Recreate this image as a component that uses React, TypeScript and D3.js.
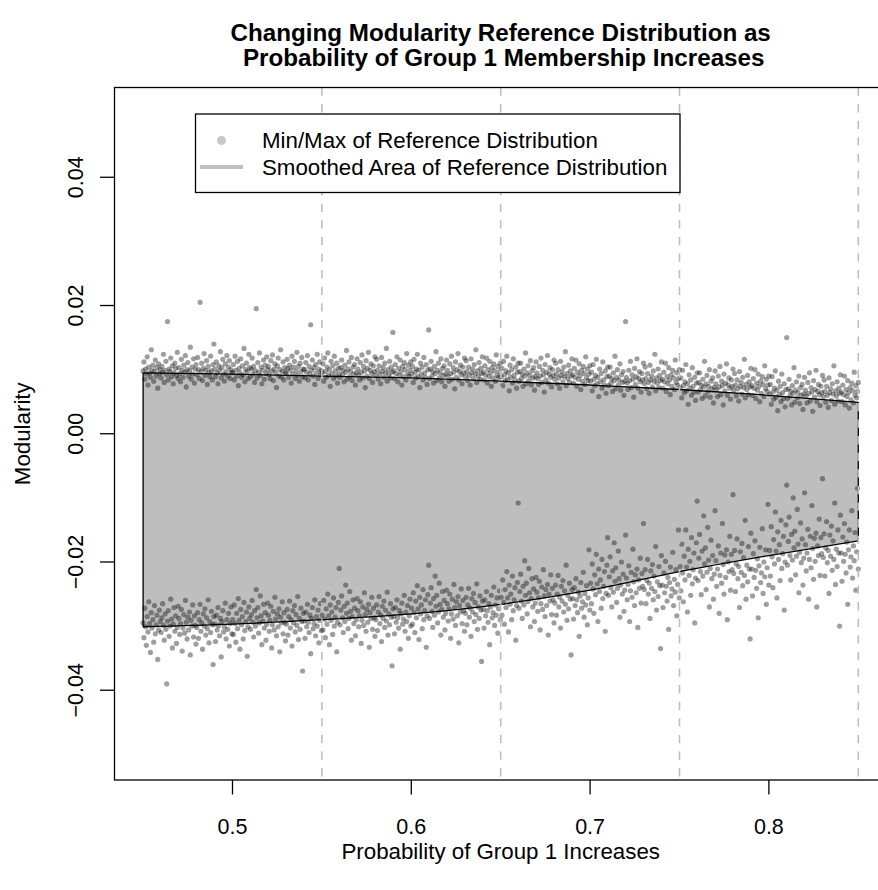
import React from "react";
import * as d3 from "d3";

// ---- data (modularity values stored in units of 1e-4) ----
const probStart = 0.45;
const probEnd = 0.85;
const smoothProbs = [0.45, 0.5, 0.55, 0.6, 0.65, 0.7, 0.75, 0.8, 0.85];
const smoothUpper = [0.0095, 0.0093, 0.009, 0.0087, 0.0082, 0.0076, 0.0069, 0.006, 0.0049];
const smoothLower = [-0.0301, -0.0297, -0.029, -0.0281, -0.0266, -0.0244, -0.0215, -0.019, -0.0167];
const xTicks = [0.5, 0.6, 0.7, 0.8];
const xTickLabels = ["0.5", "0.6", "0.7", "0.8"];
const yTicks = [-0.04, -0.02, 0, 0.02, 0.04];
const yTickLabels = ["\u22120.04", "\u22120.02", "0.00", "0.02", "0.04"];
const refLines = [0.55, 0.65, 0.75, 0.85];
const legendLabels = ["Min/Max of Reference Distribution", "Smoothed Area of Reference Distribution"];

const maxValues = [
  98, 112, 85, 101, 93, 120, 76, 104, 95, 88, 131, 99, 107, 82, 97, 115, 90, 103, 71, 109, 94, 100,
  87, 105, 96, 124, 80, 99, 113, 92, 175, 84, 101, 97, 118, 89, 106, 78, 95, 110, 102, 91, 127, 86,
  103, 94, 81, 116, 99, 88, 107, 96, 122, 73, 100, 111, 90, 98, 135, 85, 104, 93, 117, 79, 101, 108,
  92, 119, 100, 86, 205, 97, 110, 83, 102, 125, 91, 99, 114, 77, 105, 96, 89, 121, 98, 84, 108, 140,
  101, 89, 112, 95, 78, 106, 99, 128, 87, 103, 116, 93, 82, 109, 97, 122, 90, 104, 114, 86, 100, 95,
  96, 108, 84, 121, 99, 90, 113, 75, 102, 95, 117, 88, 106, 92, 133, 81, 100, 110, 97, 86, 124, 103,
  89, 101, 118, 93, 105, 80, 98, 195, 87, 111, 96, 126, 91, 104, 78, 99, 115, 85, 107, 94, 120, 100,
  105, 92, 86, 114, 98, 123, 83, 101, 109, 95, 72, 106, 118, 90, 100, 131, 88, 97, 112, 84, 103, 96,
  94, 116, 102, 88, 107, 99, 79, 121, 93, 104, 113, 86, 98, 127, 91, 105, 82, 110, 97, 119, 89, 101,
  100, 87, 111, 96, 122, 84, 105, 93, 170, 99, 115, 90, 103, 77, 108, 95, 124, 86, 101, 112, 92, 98,
  95, 109, 82, 118, 97, 88, 104, 126, 91, 100, 74, 113, 93, 106, 86, 121, 98, 90, 110, 79, 102, 94,
  88, 103, 115, 92, 99, 81, 107, 96, 130, 85, 101, 112, 89, 97, 119, 83, 104, 93, 108, 76, 95, 117,
  101, 92, 84, 111, 96, 123, 87, 105, 98, 72, 114, 90, 102, 127, 86, 99, 109, 94, 80, 106, 97, 120,
  91, 116, 99, 85, 106, 93, 78, 119, 97, 103, 88, 110, 95, 133, 82, 100, 92, 113, 87, 104, 96, 158,
  98, 86, 108, 94, 120, 81, 102, 91, 115, 97, 76, 105, 89, 111, 100, 84, 125, 93, 107, 90, 99, 112,
  93, 105, 80, 116, 96, 87, 101, 124, 89, 99, 72, 110, 92, 104, 84, 119, 95, 88, 108, 77, 100, 162,
  86, 101, 113, 90, 97, 79, 105, 94, 128, 83, 99, 110, 87, 95, 117, 81, 102, 91, 106, 74, 93, 115,
  99, 90, 82, 109, 94, 121, 85, 103, 96, 70, 112, 88, 100, 125, 84, 97, 107, 92, 78, 104, 95, 118,
  89, 114, 97, 83, 104, 91, 76, 117, 95, 101, 86, 108, 93, 131, 80, 98, 90, 111, 85, 102, 94, 120,
  96, 84, 106, 92, 118, 79, 100, 89, 113, 95, 74, 103, 87, 109, 98, 82, 123, 91, 105, 88, 97, 110,
  89, 102, 75, 113, 92, 83, 98, 121, 85, 95, 67, 107, 88, 100, 79, 117, 91, 84, 104, 71, 96, 110,
  82, 97, 110, 86, 93, 74, 101, 90, 126, 78, 95, 106, 83, 91, 114, 76, 98, 87, 103, 68, 89, 112,
  95, 86, 77, 105, 90, 118, 80, 99, 92, 65, 108, 84, 96, 122, 79, 93, 103, 88, 73, 100, 91, 115,
  85, 110, 93, 78, 100, 87, 71, 113, 91, 97, 81, 104, 89, 128, 75, 94, 86, 107, 80, 98, 90, 117,
  92, 79, 102, 88, 115, 74, 96, 85, 109, 91, 69, 99, 82, 105, 94, 77, 120, 87, 101, 83, 93, 106,
  82, 96, 67, 108, 85, 75, 91, 116, 78, 88, 58, 101, 81, 94, 71, 112, 84, 76, 98, 63, 89, 104,
  75, 90, 104, 79, 86, 66, 95, 83, 121, 70, 88, 100, 76, 84, 109, 68, 92, 80, 97, 60, 82, 175,
  88, 79, 69, 99, 83, 113, 72, 92, 85, 57, 102, 77, 89, 117, 71, 86, 97, 81, 65, 94, 84, 110,
  78, 104, 86, 70, 94, 80, 63, 107, 84, 90, 73, 98, 82, 124, 67, 87, 79, 101, 72, 91, 83, 112,
  85, 71, 96, 81, 110, 66, 89, 78, 103, 84, 61, 92, 74, 99, 87, 69, 115, 80, 95, 76, 86, 100,
  72, 87, 56, 99, 75, 64, 81, 108, 67, 78, 46, 92, 71, 84, 60, 103, 74, 65, 88, 52, 79, 95,
  65, 80, 95, 69, 76, 55, 85, 73, 113, 59, 78, 91, 66, 74, 100, 57, 82, 70, 87, 48, 72, 98,
  78, 69, 58, 90, 73, 105, 61, 82, 75, 45, 93, 67, 79, 109, 60, 76, 87, 71, 54, 84, 74, 101,
  68, 94, 76, 59, 84, 70, 51, 97, 74, 80, 62, 88, 72, 116, 56, 77, 69, 91, 61, 81, 73, 102,
  75, 60, 86, 71, 100, 55, 79, 68, 93, 74, 50, 82, 63, 89, 77, 58, 106, 70, 85, 66, 76, 90,
  62, 77, 46, 89, 65, 54, 71, 98, 57, 68, 36, 82, 61, 74, 50, 93, 64, 55, 78, 42, 69, 150,
  55, 70, 85, 59, 66, 45, 75, 63, 103, 49, 68, 81, 56, 64, 90, 47, 72, 60, 77, 38, 62, 88,
  68, 59, 48, 80, 63, 95, 51, 72, 65, 35, 83, 57, 69, 99, 50, 66, 77, 61, 44, 74, 64, 91,
  58, 84, 66, 49, 74, 60, 41, 87, 64, 70, 52, 78, 62, 106, 46, 67, 59, 81, 51, 71, 63, 92,
  65, 50, 76, 61, 90, 45, 69, 58, 83, 64, 40, 72, 53, 79, 67, 48, 96, 60, 75, 56, 66, 80,
];

const minValues = [
  -295, -318, -272, -301, -330, -285, -309, -262, -296, -341, -279, -303, -290, -325, -268, -312, -298, -283, -352, -306, -275, -293,
  -310, -287, -265, -299, -322, -281, -305, -390, -292, -276, -316, -300, -258, -289, -334, -297, -271, -308, -284, -327, -302, -269,
  -288, -313, -296, -274, -339, -303, -282, -311, -260, -294, -320, -286, -306, -278, -345, -291, -300, -267, -317, -284, -299, -328,
  -302, -279, -319, -290, -266, -308, -295, -336, -281, -300, -273, -314, -287, -304, -259, -326, -293, -310, -277, -298, -360, -285,
  -297, -324, -283, -306, -271, -299, -315, -288, -348, -293, -276, -309, -301, -264, -320, -290, -305, -280, -331, -296, -270, -312,
  -290, -313, -267, -296, -325, -280, -304, -257, -291, -336, -274, -298, -285, -320, -263, -307, -293, -278, -347, -301, -270, -288,
  -305, -282, -260, -294, -317, -276, -300, -243, -287, -271, -311, -295, -253, -284, -329, -292, -266, -303, -279, -322, -297, -264,
  -283, -308, -291, -269, -334, -298, -277, -306, -255, -289, -315, -281, -301, -273, -340, -286, -295, -262, -312, -279, -294, -323,
  -297, -274, -314, -285, -261, -303, -290, -331, -276, -295, -268, -309, -282, -299, -254, -321, -288, -305, -272, -293, -370, -280,
  -292, -319, -278, -301, -266, -294, -310, -283, -343, -288, -271, -304, -296, -259, -315, -285, -300, -275, -326, -291, -265, -307,
  -283, -306, -260, -289, -318, -273, -297, -250, -284, -329, -267, -291, -278, -313, -256, -300, -286, -271, -340, -294, -263, -210,
  -298, -275, -253, -287, -310, -269, -293, -236, -280, -264, -304, -288, -246, -277, -322, -285, -259, -296, -272, -315, -290, -257,
  -276, -301, -284, -262, -327, -291, -270, -299, -248, -282, -308, -274, -294, -266, -333, -279, -288, -255, -305, -272, -287, -316,
  -290, -267, -307, -278, -254, -296, -283, -324, -269, -288, -261, -302, -275, -292, -247, -314, -281, -298, -265, -286, -362, -273,
  -285, -312, -271, -294, -259, -287, -303, -276, -336, -281, -264, -297, -289, -252, -308, -278, -293, -268, -319, -284, -258, -300,
  -272, -297, -248, -279, -310, -261, -287, -237, -273, -321, -255, -281, -267, -304, -243, -290, -276, -259, -333, -284, -251, -205,
  -288, -264, -240, -277, -302, -257, -283, -222, -269, -252, -295, -278, -233, -266, -314, -274, -246, -286, -260, -306, -280, -244,
  -265, -292, -273, -250, -319, -281, -258, -289, -235, -271, -299, -262, -284, -254, -326, -268, -278, -242, -296, -260, -276, -308,
  -280, -255, -298, -267, -241, -286, -272, -316, -257, -278, -249, -293, -263, -282, -234, -305, -270, -288, -253, -275, -355, -261,
  -274, -303, -259, -284, -246, -276, -294, -265, -329, -270, -252, -287, -279, -239, -299, -267, -283, -256, -311, -273, -245, -290,
  -255, -283, -228, -263, -297, -243, -271, -215, -256, -309, -236, -266, -250, -290, -222, -276, -259, -240, -322, -268, -232, -108,
  -272, -246, -219, -261, -288, -238, -267, -198, -252, -233, -281, -262, -210, -248, -301, -257, -226, -270, -242, -293, -264, -224,
  -247, -277, -256, -230, -306, -265, -239, -274, -212, -253, -285, -243, -268, -235, -314, -250, -261, -220, -282, -241, -259, -295,
  -264, -236, -283, -250, -221, -270, -255, -303, -238, -261, -229, -278, -245, -266, -205, -291, -252, -273, -233, -258, -345, -243,
  -257, -289, -240, -268, -226, -259, -279, -247, -316, -253, -232, -272, -262, -216, -286, -249, -267, -237, -298, -256, -181, -275,
  -233, -265, -203, -242, -280, -220, -251, -188, -234, -293, -211, -246, -228, -272, -196, -257, -238, -215, -308, -249, -205, -162,
  -252, -223, -192, -240, -270, -214, -247, -170, -230, -209, -263, -241, -183, -226, -286, -236, -200, -250, -219, -277, -244, -158,
  -225, -259, -235, -206, -293, -245, -216, -255, -180, -231, -268, -220, -248, -211, -302, -228, -241, -194, -264, -218, -238, -140,
  -243, -212, -265, -229, -196, -250, -233, -288, -214, -241, -204, -259, -222, -246, -176, -275, -231, -254, -207, -237, -335, -190,
  -236, -271, -217, -248, -199, -238, -261, -224, -305, -232, -208, -253, -242, -185, -268, -227, -247, -212, -284, -235, -150, -256,
  -207, -245, -172, -217, -262, -191, -228, -150, -208, -278, -180, -221, -199, -252, -162, -234, -212, -186, -295, -225, -170, -105,
  -229, -194, -157, -215, -251, -183, -222, -128, -203, -178, -243, -216, -146, -197, -270, -210, -166, -226, -190, -258, -219, -120,
  -198, -238, -211, -175, -280, -221, -186, -233, -140, -204, -250, -189, -224, -181, -290, -200, -215, -160, -244, -188, -212, -95,
  -218, -182, -246, -203, -164, -226, -207, -271, -184, -216, -171, -237, -193, -221, -135, -258, -205, -231, -176, -211, -320, -155,
  -211, -253, -187, -224, -167, -213, -241, -195, -287, -206, -177, -232, -217, -148, -249, -200, -223, -181, -266, -209, -110, -236,
  -182, -222, -145, -192, -240, -165, -203, -122, -183, -256, -153, -196, -173, -229, -135, -210, -187, -160, -275, -200, -142, -80,
  -205, -168, -130, -190, -228, -157, -197, -100, -178, -152, -220, -191, -118, -172, -248, -185, -139, -201, -164, -236, -194, -92,
  -173, -214, -186, -149, -258, -196, -160, -209, -112, -179, -227, -163, -199, -155, -270, -175, -190, -133, -221, -162, -187, -70,
  -193, -156, -222, -178, -137, -201, -182, -249, -158, -191, -144, -213, -167, -196, -108, -235, -180, -207, -150, -186, -300, -127,
  -186, -230, -161, -199, -140, -188, -217, -169, -266, -181, -150, -208, -192, -120, -225, -175, -198, -154, -244, -184, -85, -211,
];

const W = 878;
const H = 890;
const FONT = "'Liberation Sans', Arial, Helvetica, sans-serif";

export default function App() {
  const plotLeft = 114.5;
  const plotTop = 87.5;
  const plotBottom = 780;
  const x = d3.scaleLinear().domain([0.434, 0.866]).range([plotLeft, 886.9]);
  const y = d3.scaleLinear().domain([-0.054, 0.054]).range([plotBottom, plotTop]);
  const plotRight = x(0.866);

  const smooth = smoothProbs.map((p, i) => ({ p, hi: smoothUpper[i], lo: smoothLower[i] }));
  const areaGen = d3
    .area<{ p: number; hi: number; lo: number }>()
    .x((d) => x(d.p))
    .y0((d) => y(d.lo))
    .y1((d) => y(d.hi))
    .curve(d3.curveMonotoneX);
  const areaPath = areaGen(smooth) || "";

  const probAt = (i: number, n: number) => probStart + (i * (probEnd - probStart)) / (n - 1);
  const pts: { px: number; py: number }[] = [];
  maxValues.forEach((v, i) => pts.push({ px: x(probAt(i, maxValues.length)), py: y(v / 10000) }));
  minValues.forEach((v, i) => pts.push({ px: x(probAt(i, minValues.length)), py: y(v / 10000) }));

  const cx = (plotLeft + plotRight) / 2;

  return (
    <svg
      width={W}
      height={H}
      style={{ position: "absolute", left: 0, top: 0, background: "#fff" }}
      fontFamily={FONT}
    >
      <rect x={0} y={0} width={W} height={H} fill="#fff" />
      {/* smoothed area */}
      <path d={areaPath + "Z"} fill="#bebebe" stroke="#000" strokeWidth={1.3} strokeLinejoin="round" />
      {/* points */}
      <g fill="#000" fillOpacity={0.38}>
        {pts.map((d, i) => (
          <circle key={i} cx={d.px} cy={d.py} r={2.6} />
        ))}
      </g>
      {/* reference lines */}
      {refLines.map((r) => (
        <line
          key={r}
          x1={x(r)}
          x2={x(r)}
          y1={plotTop}
          y2={plotBottom}
          stroke="#bebebe"
          strokeWidth={1.6}
          strokeDasharray="8.3,8.3"
        />
      ))}
      {/* box */}
      <rect
        x={plotLeft}
        y={plotTop}
        width={plotRight - plotLeft}
        height={plotBottom - plotTop}
        fill="none"
        stroke="#000"
        strokeWidth={1.3}
      />
      {/* x axis */}
      <g>
        {xTicks.map((t, i) => (
          <g key={t}>
            <line x1={x(t)} x2={x(t)} y1={plotBottom} y2={plotBottom + 14.5} stroke="#000" strokeWidth={1.3} />
            <text x={x(t)} y={834} textAnchor="middle" fontSize={21.5}>
              {xTickLabels[i]}
            </text>
          </g>
        ))}
      </g>
      {/* y axis */}
      <g>
        {yTicks.map((t, i) => (
          <g key={t}>
            <line x1={plotLeft} x2={plotLeft - 14.5} y1={y(t)} y2={y(t)} stroke="#000" strokeWidth={1.3} />
            <text transform={`translate(82.5,${y(t)}) rotate(-90)`} textAnchor="middle" fontSize={21.5}>
              {yTickLabels[i]}
            </text>
          </g>
        ))}
      </g>
      {/* axis titles */}
      <text x={cx} y={858.5} textAnchor="middle" fontSize={22.3}>
        Probability of Group 1 Increases
      </text>
      <text transform={`translate(30,${y(0)}) rotate(-90)`} textAnchor="middle" fontSize={22.3}>
        Modularity
      </text>
      {/* title */}
      <text x={cx} y={40.6} textAnchor="middle" fontSize={24.2} fontWeight="bold">
        Changing Modularity Reference Distribution as
      </text>
      <text x={cx + 3} y={65.6} textAnchor="middle" fontSize={24.2} fontWeight="bold">
        Probability of Group 1 Membership Increases
      </text>
      {/* legend */}
      <g>
        <rect x={195.5} y={114} width={484.5} height={78.5} fill="#fff" stroke="#000" strokeWidth={1.3} />
        <circle cx={221.5} cy={140.5} r={4.5} fill="#c8c8c8" />
        <line x1={200} x2={243} y1={167} y2={167} stroke="#bebebe" strokeWidth={4} />
        <text x={262} y={147.5} fontSize={22.3}>
          {legendLabels[0]}
        </text>
        <text x={262} y={174.5} fontSize={22.3}>
          {legendLabels[1]}
        </text>
      </g>
    </svg>
  );
}
